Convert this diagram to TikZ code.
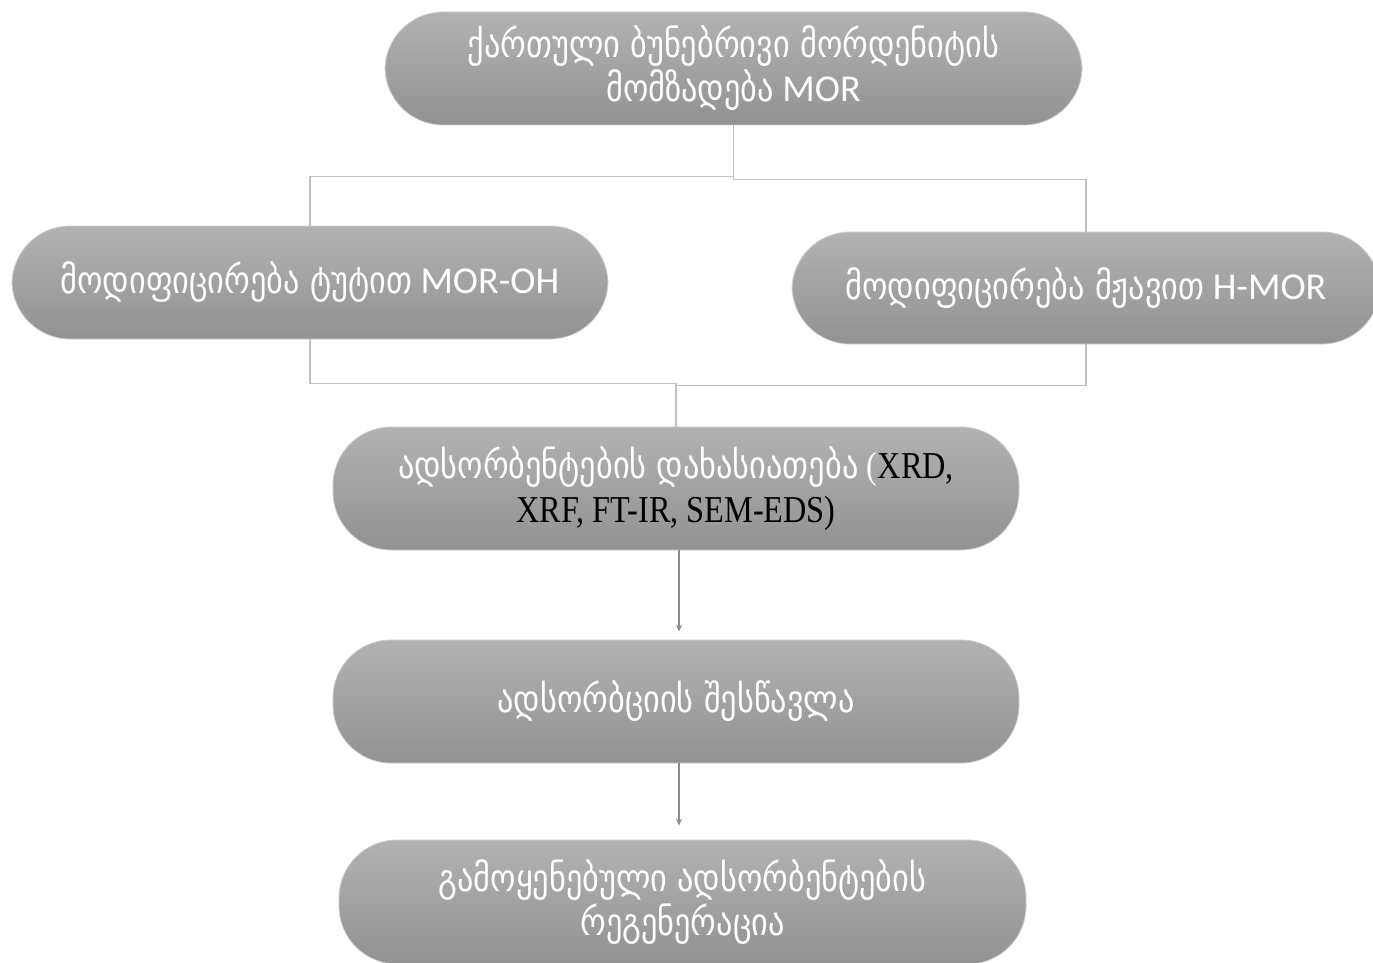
\documentclass[tikz,border=0pt]{standalone}
\usepackage{fontspec}
\setmainfont{Carlito}
\newfontfamily\geo[FakeStretch=0.85]{DejaVu Sans}
\newfontfamily\tnr[FakeStretch=0.85]{Liberation Serif}
\usetikzlibrary{arrows.meta}
\definecolor{pilltop}{RGB}{178,178,178}
\definecolor{pillbot}{RGB}{146,146,146}
\definecolor{pilledge}{RGB}{205,205,205}
\definecolor{linegray}{RGB}{192,192,192}
\definecolor{arrowgray}{RGB}{140,140,140}
\begin{document}
\begin{tikzpicture}[x=1pt,y=-1pt,
  pill/.style={rectangle, rounded corners=58pt, top color=pilltop, bottom color=pillbot,
    draw=pilledge, line width=0.8pt, text=white, align=center,
    font=\fontsize{38}{44}\selectfont, inner sep=0pt},
  link/.style={draw=linegray, line width=1.3pt},
  flow/.style={draw=arrowgray, line width=1.6pt, -{Stealth[length=7pt,width=6pt]}}]
\useasboundingbox (0,0) rectangle (1373,963);

\node[pill, minimum width=697pt, minimum height=113pt] (n1) at (733.5,68.5)
  {{\geo ქართული ბუნებრივი მორდენიტის}\\{\geo მომზადება} MOR};
\node[pill, minimum width=596pt, minimum height=113pt] (n2) at (310,282.5)
  {{\geo მოდიფიცირება ტუტით} MOR-OH};
\node[pill, minimum width=588pt, minimum height=112pt] (n3) at (1086,288)
  {{\geo მოდიფიცირება მჟავით} H-MOR};
\node[pill, minimum width=686pt, minimum height=123pt] (n4) at (676,488.5)
  {{\geo ადსორბენტების დახასიათება} {\tnr (\textcolor{black}{XRD,}}\\{\tnr\color{black}XRF, FT-IR, SEM-EDS)}};
\node[pill, minimum width=686pt, minimum height=123pt] (n5) at (676,701.5)
  {{\geo ადსორბციის შესწავლა}};
\node[pill, minimum width=687pt, minimum height=124pt] (n6) at (682.5,902)
  {{\geo გამოყენებული ადსორბენტების}\\{\geo რეგენერაცია}};

\draw[link] (n1.south) -- ++(0,51) -| (n2.north);
\draw[link] (n1.south) -- ++(0,54) -| (n3.north);
\draw[link] (n2.south) -- ++(0,44) -| (n4.north);
\draw[link] (n3.south) -- ++(0,41) -| (n4.north);
\draw[flow, shorten >=8pt] ([xshift=3pt]n4.south) -- ([xshift=3pt]n4.south |- n5.north);
\draw[flow, shorten >=14pt] ([xshift=3pt]n5.south) -- ([xshift=3pt]n5.south |- n6.north);
\end{tikzpicture}
\end{document}
